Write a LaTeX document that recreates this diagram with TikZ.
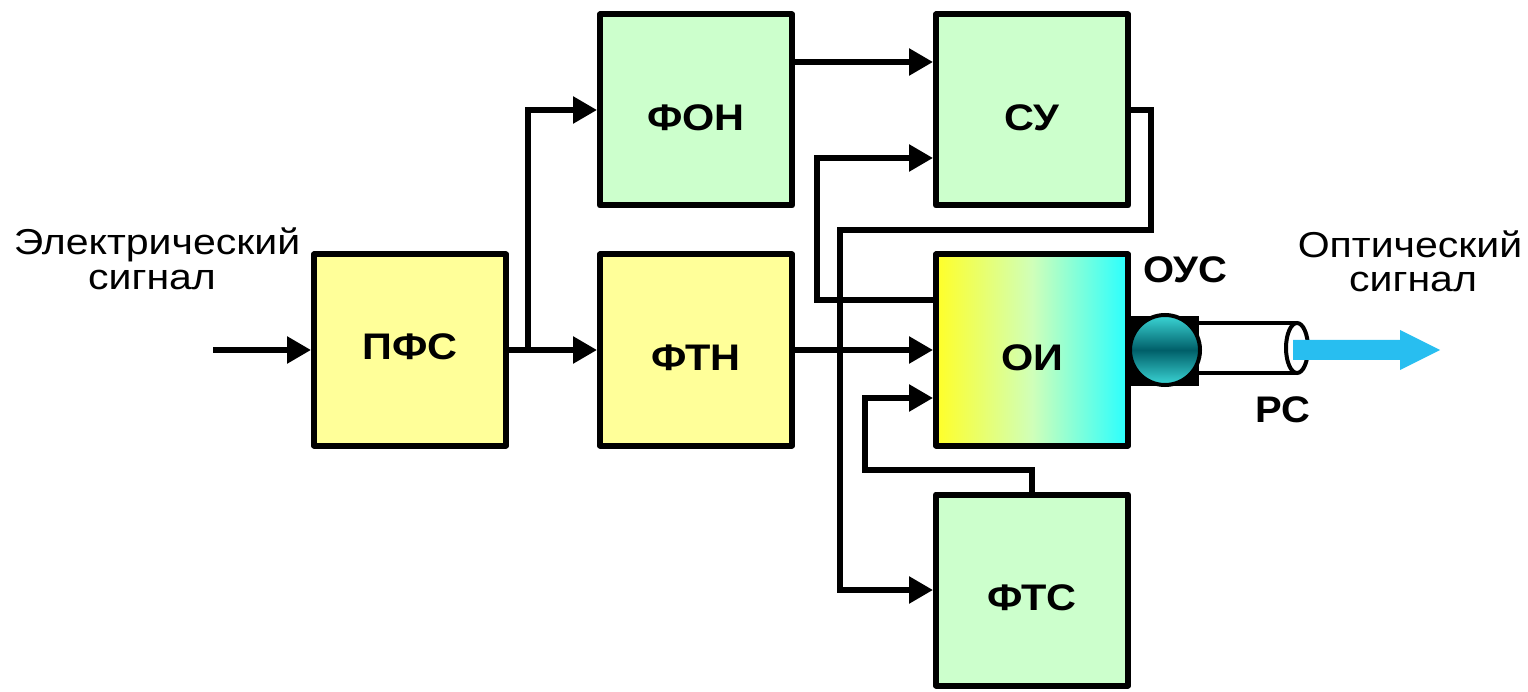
\documentclass[tikz,border=0pt]{standalone}
\usepackage{fontspec}
\usepackage{graphicx}
\setmainfont{Liberation Sans}
\usetikzlibrary{arrows.meta}
\definecolor{boxgreen}{RGB}{204,255,204}
\definecolor{boxyellow}{RGB}{255,255,153}
\definecolor{oiyellow}{RGB}{255,255,40}
\definecolor{oimid}{RGB}{208,255,185}
\definecolor{oicyan}{RGB}{40,255,255}
\definecolor{optcyan}{RGB}{40,190,240}
\definecolor{lenscyan}{RGB}{60,215,215}
\definecolor{lensdark}{RGB}{0,95,105}
\newcommand\boxlbl[2]{\raisebox{#1}{\scalebox{1.12}[1]{#2}}}
\newcommand\wide[1]{\scalebox{1.14}[1]{#1}}
\begin{document}
\begin{tikzpicture}[x=1pt,y=-1pt,
  blk/.style={draw=black, line width=6pt, line join=round,
    minimum width=192pt, minimum height=191pt, inner sep=0pt,
    text height=26.5pt, text depth=0pt,
    font=\fontsize{37}{40}\selectfont\bfseries},
  yel/.style={blk, fill=boxyellow},
  grn/.style={blk, fill=boxgreen},
  conn/.style={draw=black, line width=5.6pt},
  arr/.style={conn, -{Triangle[length=24pt,width=26pt]}},
  txt/.style={inner sep=0pt, font=\fontsize{36}{36}\selectfont},
  btxt/.style={inner sep=0pt, font=\fontsize{37}{40}\selectfont\bfseries}]
\useasboundingbox (0,0) rectangle (1528,692);

% blocks
\node[yel] (pfs) at (410,350) {\boxlbl{4pt}{ПФС}};
\node[grn] (fon) at (696,110) {\boxlbl{-7pt}{ФОН}};
\node[yel] (ftn) at (696,350) {\boxlbl{-7pt}{ФТН}};
\node[grn] (su)  at (1032,110) {\boxlbl{-7pt}{СУ}};
\node[blk, left color=oiyellow, right color=oicyan, middle color=oimid] (oi) at (1032,350) {\boxlbl{-7pt}{ОИ}};
\node[grn] (fts) at (1032,590) {\boxlbl{-7pt}{ФТС}};

% coordinates
\coordinate (in) at (213,350);
\coordinate (j1) at (528,350);
\coordinate (o1) at (817,300);
\coordinate (s1) at (1151,110);
\coordinate (s2) at (1151,230);
\coordinate (s3) at (840,230);
\coordinate (f1) at (865,470);

% connectors
\draw[arr] (in) -- (pfs.west);
\draw[arr] (pfs.east) -- (ftn.west);
\draw[arr] (j1) |- (fon.west);
\draw[arr] ([yshift=48pt]fon.east) -- ([yshift=48pt]su.west);
\draw[arr] (ftn.east) -- (oi.west);
\draw[arr] ([yshift=50pt]oi.west) -- (o1) |- ([yshift=-48pt]su.west);
\draw[arr] (su.east) -- (s1) -- (s2) -- (s3) |- (fts.west);
\draw[arr] (fts.north) |- (f1) |- ([yshift=-48pt]oi.west);

% optical output
\fill[black] (1128,316) rectangle (1199,386);
\draw[line width=4pt, top color=lenscyan, bottom color=lenscyan, middle color=lensdark] (1165,350) circle [radius=35];
\draw[line width=4.5pt] (1199,323) -- (1297,323);
\draw[line width=4.5pt] (1199,373) -- (1297,373);
\draw[line width=4pt, fill=white] (1297,348) ellipse [x radius=11, y radius=25];
\fill[optcyan] (1293,340) -- (1400,340) -- (1400,330) -- (1440,350) -- (1400,370) -- (1400,360) -- (1293,360) -- cycle;

% texts
\node[txt, anchor=base] (el1) at (157,255) {\wide{Электрический}};
\node[txt, anchor=base] (el2) at (152,290) {\wide{сигнал}};
\node[txt, anchor=base] (op1) at (1410,258) {\wide{Оптический}};
\node[txt, anchor=base] (op2) at (1413,292) {\wide{сигнал}};
\node[btxt, anchor=base] (ous) at (1185,283) {\scalebox{1.08}[1]{ОУС}};
\node[btxt, anchor=base] (rs) at (1283,422) {\scalebox{1.08}[1]{РС}};
\end{tikzpicture}
\end{document}
